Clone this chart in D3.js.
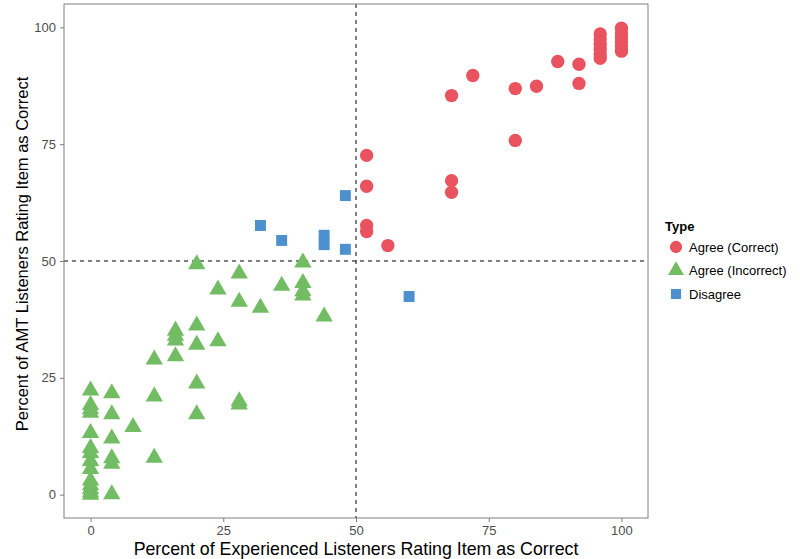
<!DOCTYPE html>
<html><head><meta charset="utf-8">
<script src="https://cdn.jsdelivr.net/npm/d3@7"></script>
<style>body{margin:0;background:#fff}svg{display:block}text{font-family:"Liberation Sans",Arial,sans-serif}</style>
</head><body><svg id="c" width="800" height="559"></svg>
<script>
const types = ["Agree (Correct)", "Agree (Incorrect)", "Disagree"];
const correctX = [52,52,52,52,56,68,68,68,72,80,80,84,88,92,92,96,96,96,96,96,96,100,100,100,100,100,100];
const correctY = [72.6,66,57.6,56.3,53.3,85.4,67.2,64.7,89.7,86.9,75.8,87.4,92.7,92.1,88,98.6,97.5,96.4,95.3,94.3,93.4,99.8,98.8,97.8,96.9,95.9,94.9];
const incorrectX = [20,28,40,40,40,40,24,36,28,32,44,20,16,16,16,20,24,12,16,20,28,28,20,0,4,12,0,0,0,4,8,0,4,0,0,0,0,4,4,12,0,0,0,0,0,4];
const incorrectY = [49.3,47.3,49.7,45.3,43.5,42.6,43.9,44.7,41.3,40,38.1,36.2,35.1,34,33,32.1,32.8,28.9,29.6,23.8,20,19.3,17.2,22.3,21.7,21,19.2,18.3,17.5,17.2,14.5,13.2,12,10,8.9,7.2,5.5,7.8,6.6,7.9,3,2,1.2,0.5,0,0.1];
const disagreeX = [32,36,44,44,48,48,60];
const disagreeY = [57.6,54.4,55.5,53.5,64,52.5,42.4];
const ticks = [0,25,50,75,100];

const colors = ["#e9535f","#72bc64","#4e90cd"];
const svg = d3.select("#c");
const L=64,R=648,T=4,B=518;
const x = d3.scaleLinear().domain([-5,105]).range([L,R]);
const y = d3.scaleLinear().domain([-5,105]).range([B,T]);

const g = svg.append("g");
g.append("line").attr("x1",x(50)).attr("x2",x(50)).attr("y1",T).attr("y2",B)
 .attr("stroke","#000").attr("stroke-dasharray","4,4").attr("stroke-width",1);
g.append("line").attr("x1",L).attr("x2",R).attr("y1",y(50)).attr("y2",y(50))
 .attr("stroke","#000").attr("stroke-dasharray","4,4").attr("stroke-width",1);

const sym = [d3.symbolCircle, d3.symbolTriangle, d3.symbolSquare];
const sizes = [140, 130, 120];
function pts(xs, ys, k){
  const p = d3.symbol().type(sym[k]).size(sizes[k]);
  g.selectAll(null).data(xs.map((v,i)=>[v,ys[i]])).enter().append("path")
   .attr("d",p).attr("fill",colors[k])
   .attr("transform",d=>`translate(${x(d[0])},${y(d[1])})`);
}
pts(incorrectX, incorrectY, 1);
pts(disagreeX, disagreeY, 2);
pts(correctX, correctY, 0);

svg.append("rect").attr("x",L).attr("y",T).attr("width",R-L).attr("height",B-T)
 .attr("fill","none").attr("stroke","#7f7f7f").attr("stroke-width",1);

const xa = svg.append("g").attr("transform",`translate(0,${B})`)
 .call(d3.axisBottom(x).tickValues(ticks).tickSize(4).tickPadding(4));
const ya = svg.append("g").attr("transform",`translate(${L},0)`)
 .call(d3.axisLeft(y).tickValues(ticks).tickSize(4).tickPadding(4));
[xa,ya].forEach(a=>{
  a.select(".domain").remove();
  a.selectAll(".tick line").attr("stroke","#7f7f7f");
  a.selectAll(".tick text").attr("fill","#4d4d4d").style("font-size","13px")
   .style("font-family","'Liberation Sans',Arial,sans-serif");
});

svg.append("text").attr("x",(L+R)/2).attr("y",555).attr("text-anchor","middle")
 .style("font-size","17.8px").attr("fill","#000")
 .text("Percent of Experienced Listeners Rating Item as Correct");
svg.append("text").attr("transform",`translate(28,254) rotate(-90)`).attr("text-anchor","middle")
 .style("font-size","16.5px").attr("fill","#000")
 .text("Percent of AMT Listeners Rating Item as Correct");

const lg = svg.append("g");
lg.append("text").attr("x",665).attr("y",231).style("font-size","13px").style("font-weight","bold").text("Type");
types.forEach((t,i)=>{
  const yy = 247 + i*23.5;
  lg.append("path").attr("d",d3.symbol().type(sym[i]).size(sizes[i]*0.85)())
    .attr("fill",colors[i]).attr("transform",`translate(676,${yy})`);
  lg.append("text").attr("x",689).attr("y",yy+4.5).style("font-size","13px").attr("fill","#000").text(t);
});
</script></body></html>
